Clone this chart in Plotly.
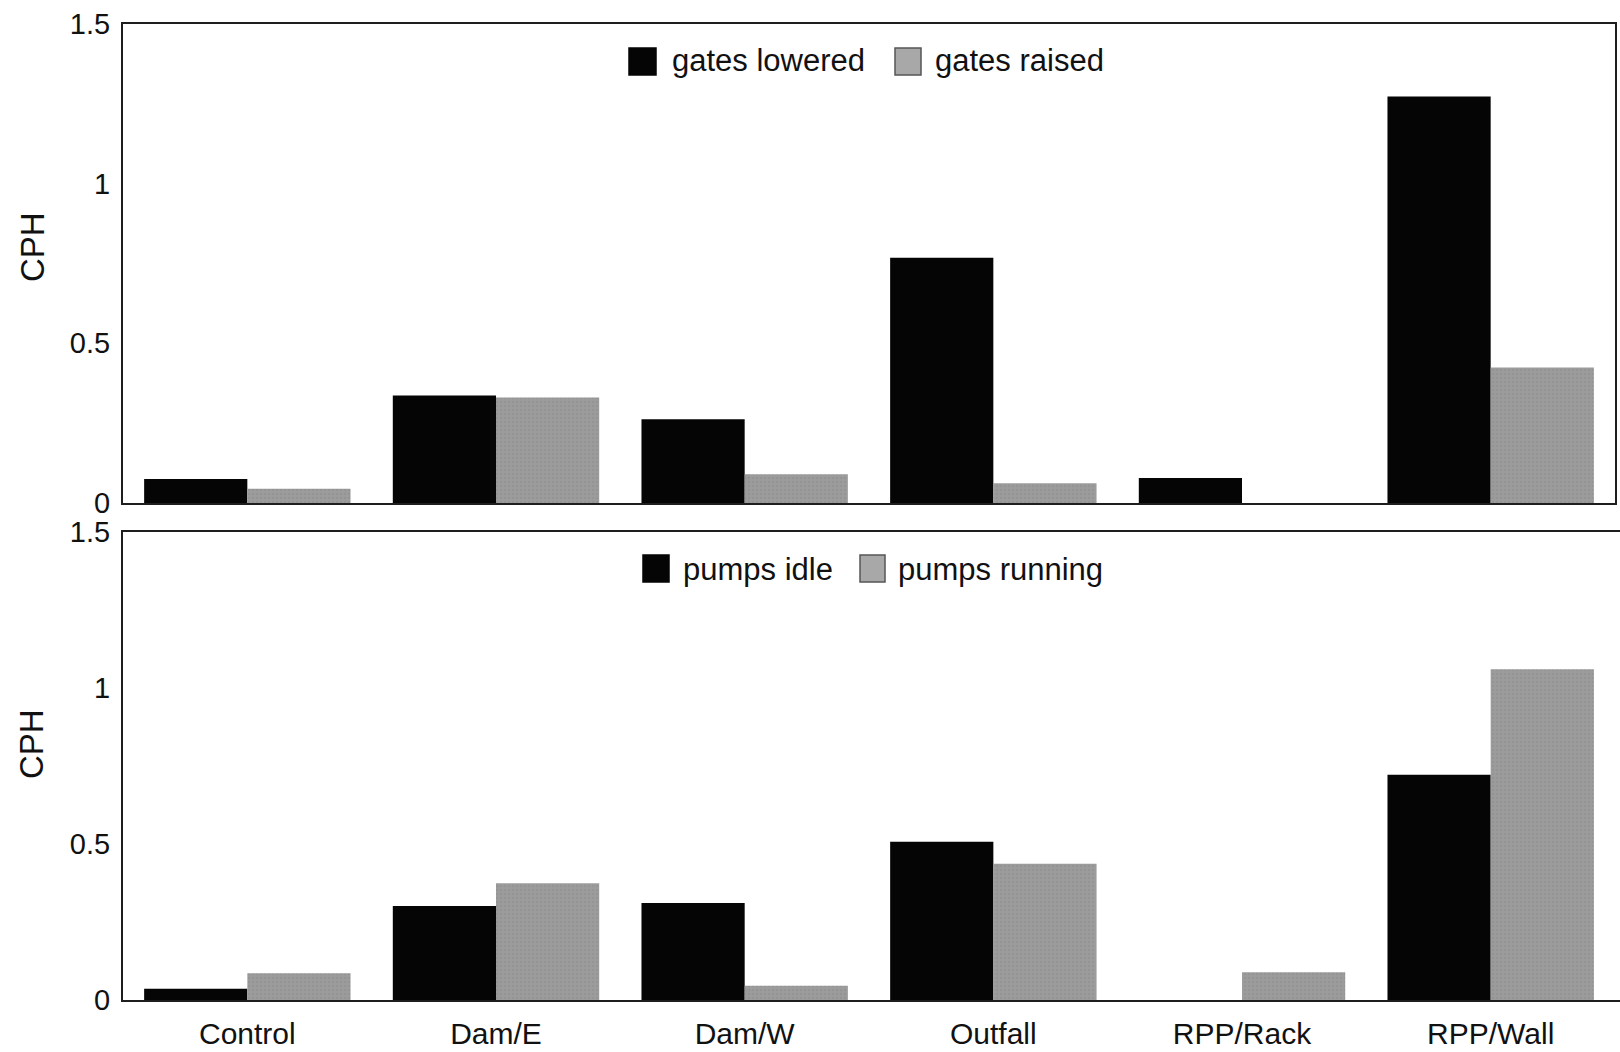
import plotly.graph_objects as go
from plotly.subplots import make_subplots

# Catches per hour at each sampling site
sites = ["Control", "Dam/E", "Dam/W", "Outfall", "RPP/Rack", "RPP/Wall"]

gates_names = ["gates lowered", "gates raised"]
gates_lowered = [0.075, 0.337, 0.262, 0.768, 0.078, 1.273]
gates_raised = [0.045, 0.330, 0.090, 0.062, 0.0, 0.424]

pumps_names = ["pumps idle", "pumps running"]
pumps_idle = [0.036, 0.301, 0.311, 0.507, 0.0, 0.722]
pumps_running = [0.086, 0.374, 0.046, 0.437, 0.089, 1.060]

y_ticks = [0, 0.5, 1, 1.5]
y_tick_text = ["0", "0.5", "1", "1.5"]
y_title = "CPH"

W, H = 1620, 1052
ML, MR, MT, MB = 123, 0, 24, 52
PW, PH = W - ML - MR, H - MT - MB

def px_x(px):
    return (px - ML) / PW

def px_y(py):
    return (H - MB - py) / PH

FONT = "Liberation Sans, Arial, sans-serif"
BLACK = "#050505"
GRAY = "#9c9c9c"

fig = make_subplots(rows=2, cols=1, shared_xaxes=False, vertical_spacing=0.03)

def add_pair(vals_a, vals_b, names, row):
    fig.add_trace(go.Bar(x=sites, y=vals_a, name=names[0], showlegend=False,
                         marker=dict(color=BLACK, line=dict(width=0))),
                  row=row, col=1)
    fig.add_trace(go.Bar(x=sites, y=vals_b, name=names[1], showlegend=False,
                         marker=dict(color=GRAY, line=dict(width=0),
                                     pattern=dict(shape=".", fgcolor="#8c8c8c",
                                                  bgcolor=GRAY, size=4, solidity=0.35))),
                  row=row, col=1)

add_pair(gates_lowered, gates_raised, gates_names, 1)
add_pair(pumps_idle, pumps_running, pumps_names, 2)

top_dom = [px_y(503), px_y(24)]
bot_dom = [px_y(1000), px_y(532)]

axis_common = dict(showline=True, linecolor="#1e1e1e", linewidth=2, mirror=True,
                   showgrid=False, zeroline=False, ticks="", automargin=False)

fig.update_xaxes(**axis_common, range=[-0.5, 5.5], domain=[0, px_x(1615)],
                 showticklabels=False, row=1, col=1)
fig.update_xaxes(**axis_common, range=[-0.5, 5.52], domain=[0, 1],
                 tickfont=dict(family=FONT, size=30, color="#111"),
                 ticklabelstandoff=6, row=2, col=1)

for r, dom in ((1, top_dom), (2, bot_dom)):
    fig.update_yaxes(**axis_common, range=[0, 1.5], domain=dom,
                     tickvals=y_ticks, ticktext=y_tick_text,
                     tickfont=dict(family=FONT, size=29, color="#111"),
                     ticklabelstandoff=5,
                     row=r, col=1)

shapes = []
annotations = []

# Vertical axis titles, set a little above each panel's middle
for ty in (247, 744):
    annotations.append(dict(text=y_title, xref="paper", yref="paper",
                            x=px_x(32), y=px_y(ty), xanchor="center", yanchor="middle",
                            textangle=-90, showarrow=False,
                            font=dict(family=FONT, size=33, color="#111")))

# Legend boxes drawn above each panel
def legend_item(x0, x1, y0, y1, color, edge, label, tx, ty):
    shapes.append(dict(type="rect", xref="paper", yref="paper",
                       x0=px_x(x0), x1=px_x(x1), y0=px_y(y1), y1=px_y(y0),
                       fillcolor=color, line=dict(color=edge, width=1.5)))
    annotations.append(dict(text=label, xref="paper", yref="paper",
                            x=px_x(tx), y=px_y(ty), xanchor="left", yanchor="middle",
                            showarrow=False,
                            font=dict(family=FONT, size=31, color="#111")))

legend_item(629, 656, 48, 75, BLACK, BLACK, gates_names[0], 670, 61)
legend_item(895, 921, 48, 75, "#a8a8a8", "#555", gates_names[1], 933, 61)
legend_item(643, 669, 555, 582, BLACK, BLACK, pumps_names[0], 681, 569)
legend_item(860, 885, 555, 582, "#a8a8a8", "#555", pumps_names[1], 896, 569)

fig.update_layout(width=W, height=H, margin=dict(l=ML, r=MR, t=MT, b=MB),
                  paper_bgcolor="white", plot_bgcolor="white",
                  barmode="group", bargap=0.17, bargroupgap=0,
                  shapes=shapes, annotations=annotations,
                  font=dict(family=FONT, color="#111"))

fig.write_html("out.html")
